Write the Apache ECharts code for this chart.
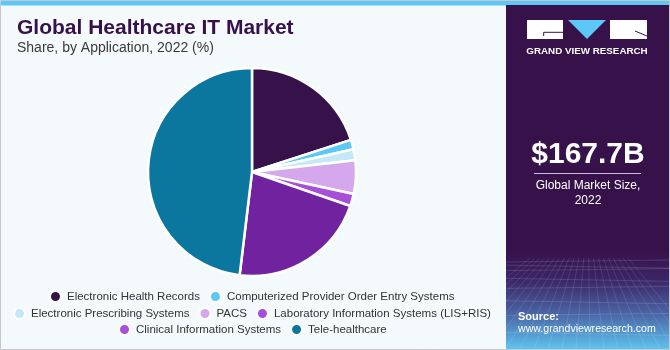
<!DOCTYPE html>
<html><head><meta charset="utf-8">
<script src="https://cdn.jsdelivr.net/npm/echarts@6/dist/echarts.min.js"></script>
<style>html,body{margin:0;padding:0;background:#f4f9fc}#c{width:670px;height:350px}</style>
</head><body><div id="c"></div><script>
const categories = ['Electronic Health Records','Computerized Provider Order Entry Systems','Electronic Prescribing Systems','PACS','Laboratory Information Systems (LIS+RIS)','Clinical Information Systems','Tele-healthcare'];
const shares = [20.0, 1.5, 1.7, 5.2, 1.9, 21.6, 48.1];
const sliceColors = ['#37114a','#5bc8f5','#c3e9f9','#d5a7ec','#a74fd9','#71239f','#0b779e'];
const legendColors = ['#37114a','#5bc8f5','#c3e9f9','#d5a7ec','#a74fd9','#a74fd9','#0b779e'];
const legendRows = [[0,1],[2,3,4],[5,6]];
const titleText = 'Global Healthcare IT Market';
const subtitleText = 'Share, by Application, 2022 (%)';
const marketSize = '$167.7B';
const marketLabel = ['Global Market Size,', '2022'];
const brand = 'GRAND VIEW RESEARCH';
const sourceLines = ['Source:', 'www.grandviewresearch.com'];

const FONT = '"Liberation Sans", Arial, sans-serif';
const legendFontSize = 11.5;
const cx = 252, cy = 172;

const mctx = document.createElement('canvas').getContext('2d');
mctx.font = legendFontSize + 'px ' + FONT;
const ITEM_W = 13, ITEM_H = 11, ITEM_GAP = 9;
const rowCenters = [296, 313, 329];

const legends = legendRows.map((row, i) => {
  let w = 0;
  row.forEach((k, j) => { w += ITEM_W + 5 + mctx.measureText(categories[k]).width + (j ? ITEM_GAP : 0); });
  return {
    data: row.map(k => ({ name: categories[k], itemStyle: { color: legendColors[k] } })),
    left: Math.round(cx - w / 2), top: rowCenters[i] - 6,
    orient: 'horizontal', icon: 'circle', itemWidth: ITEM_W, itemHeight: ITEM_H, itemGap: ITEM_GAP,
    padding: 0, selectedMode: false,
    textStyle: { color: '#333333', fontSize: legendFontSize, fontFamily: FONT }
  };
});

// decorative mesh in the lower part of the side panel
const mesh = [];
for (let k = 0; k < 9; k++) {
  const y = 262 + k * k * 1.15 + k * 2;
  mesh.push({ type: 'line', z: 1, shape: { x1: 506, y1: y, x2: 669, y2: y + (k % 2 ? 3 : -2) }, style: { stroke: 'rgba(255,255,255,0.13)', lineWidth: 1 } });
}
for (let k = -6; k <= 14; k++) {
  const xb = 506 + k * 14;
  mesh.push({ type: 'line', z: 1, shape: { x1: 588 + (xb - 588) * 0.35, y1: 258, x2: xb, y2: 349 }, style: { stroke: 'rgba(255,255,255,0.11)', lineWidth: 1 } });
}

const chart = echarts.init(document.getElementById('c'), null, { renderer: 'canvas' });
chart.setOption({
  animation: false,
  backgroundColor: '#f4f9fc',
  legend: legends,
  graphic: [
    { type: 'rect', z: 0, shape: { x: 1, y: 1, width: 668, height: 4.5 }, style: { fill: '#5bc8f5' } },
    { type: 'rect', z: 0, shape: { x: 506, y: 5, width: 163, height: 344 }, style: { fill: '#37114a' } },
    { type: 'rect', z: 0, shape: { x: 506, y: 250, width: 163, height: 99 }, style: { fill: {
        type: 'linear', x: 0, y: 0, x2: 0, y2: 1,
        colorStops: [ { offset: 0, color: '#37114a' }, { offset: 0.3, color: '#3b2566' }, { offset: 0.65, color: '#4a66a6' }, { offset: 1, color: '#5ec3ef' } ] } } },
    { type: 'group', children: mesh, clipPath: undefined },
    { type: 'rect', z: 100, shape: { x: 0.5, y: 0.5, width: 669, height: 349 }, style: { fill: 'none', stroke: '#c8c8c8', lineWidth: 1 } },
    { type: 'rect', z: 99, shape: { x: 669, y: 0, width: 1, height: 350 }, style: { fill: '#c8c8c8' } },
    // logo
    { type: 'rect', z: 5, shape: { x: 527, y: 20, width: 36, height: 19 }, style: { fill: '#ffffff' } },
    { type: 'polyline', z: 6, shape: { points: [[563, 32.3], [543.7, 32.3], [543.7, 36]] }, style: { stroke: '#37114a', lineWidth: 1, fill: 'none' } },
    { type: 'polygon', z: 5, shape: { points: [[568, 20], [606, 20], [587, 39]] }, style: { fill: '#5bc8f5' } },
    { type: 'rect', z: 5, shape: { x: 610, y: 20, width: 37, height: 19 }, style: { fill: '#ffffff' } },
    { type: 'line', z: 6, shape: { x1: 635, y1: 31, x2: 647, y2: 36 }, style: { stroke: '#37114a', lineWidth: 1 } },
    { type: 'text', z: 6, style: { x: 587, y: 51, text: brand, fill: '#ffffff', font: 'bold 9.8px ' + FONT, align: 'center', verticalAlign: 'middle' } },
    // title
    { type: 'text', z: 6, style: { x: 17, y: 28.5, text: titleText, fill: '#37114a', font: 'bold 21px ' + FONT, align: 'left', verticalAlign: 'middle' } },
    { type: 'text', z: 6, style: { x: 17, y: 48, text: subtitleText, fill: '#3a3a3a', font: '14px ' + FONT, align: 'left', verticalAlign: 'middle' } },
    // market size
    { type: 'text', z: 6, style: { x: 588, y: 155, text: marketSize, fill: '#ffffff', font: 'bold 30px ' + FONT, align: 'center', verticalAlign: 'middle' } },
    { type: 'line', z: 6, shape: { x1: 534, y1: 173.5, x2: 641, y2: 173.5 }, style: { stroke: '#c9b8d8', lineWidth: 1 } },
    { type: 'text', z: 6, style: { x: 588, y: 186, text: marketLabel[0], fill: '#ffffff', font: '12px ' + FONT, align: 'center', verticalAlign: 'middle' } },
    { type: 'text', z: 6, style: { x: 588, y: 200.5, text: marketLabel[1], fill: '#ffffff', font: '12px ' + FONT, align: 'center', verticalAlign: 'middle' } },
    // source
    { type: 'text', z: 6, style: { x: 518, y: 316.5, text: sourceLines[0], fill: '#ffffff', font: 'bold 11px ' + FONT, align: 'left', verticalAlign: 'middle' } },
    { type: 'text', z: 6, style: { x: 518, y: 329, text: sourceLines[1], fill: '#ffffff', font: '10.6px ' + FONT, align: 'left', verticalAlign: 'middle' } }
  ],
  series: [{
    type: 'pie',
    center: [cx, cy],
    radius: 104,
    startAngle: 90,
    clockwise: true,
    silent: true,
    label: { show: false },
    labelLine: { show: false },
    emphasis: { disabled: true },
    itemStyle: { borderColor: '#ffffff', borderWidth: 2.5 },
    data: categories.map((c, i) => ({ name: c, value: shares[i], itemStyle: { color: sliceColors[i] } }))
  }]
});
</script></body></html>
